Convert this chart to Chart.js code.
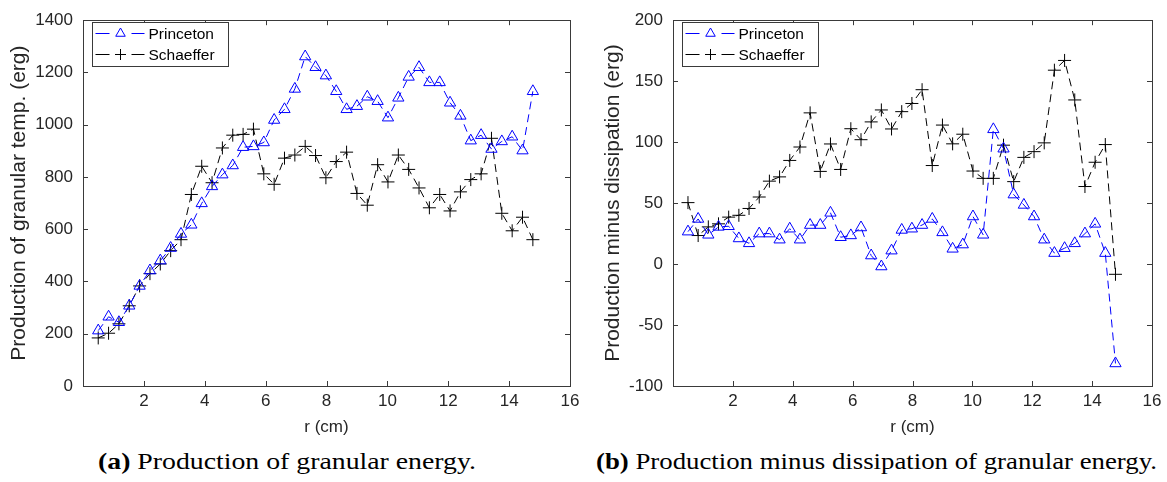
<!DOCTYPE html>
<html>
<head>
<meta charset="utf-8">
<script src="https://cdn.jsdelivr.net/npm/chart.js@4.4.1/dist/chart.umd.min.js"></script>
<style>
  body { margin: 0; background: #fff; }
  #wrap { position: relative; width: 1167px; height: 482px; overflow: hidden; }
  canvas { position: absolute; top: 0; }
  .cap { position: absolute; top: 448px; font-family: "Liberation Serif", "Times New Roman", serif;
         font-size: 24px; color: #000; white-space: nowrap; transform-origin: 0 0; }
</style>
</head>
<body>
<div id="wrap">
  <canvas id="prodChart" width="585" height="440" style="left:0px"></canvas>
  <canvas id="netChart" width="572" height="440" style="left:595px"></canvas>
  <div class="cap" id="capA" style="left:98px" data-w="378"><b>(a)</b> Production of granular energy.</div>
  <div class="cap" id="capB" style="left:596px" data-w="561"><b>(b)</b> Production minus dissipation of granular energy.</div>
</div>
<script>
// radial positions (cm)
const rVals = [0.5, 0.84, 1.18, 1.52, 1.86, 2.2, 2.54, 2.88, 3.22, 3.56, 3.9, 4.24, 4.58, 4.92,
  5.26, 5.6, 5.94, 6.28, 6.62, 6.96, 7.3, 7.64, 7.98, 8.32, 8.66, 9.0, 9.34, 9.68, 10.02, 10.36,
  10.7, 11.04, 11.38, 11.72, 12.06, 12.4, 12.74, 13.08, 13.42, 13.76, 14.1, 14.44, 14.78];

// (a) production of granular temp. (erg)
const princetonProd = [212, 265, 244, 307, 383, 442, 480, 528, 582, 617, 699, 764, 809, 844, 914,
  917, 932, 1018, 1059, 1137, 1261, 1220, 1188, 1128, 1059, 1071, 1107, 1090, 1027, 1103, 1183,
  1220, 1162, 1162, 1084, 1034, 939, 960, 907, 936, 954, 901, 1128];
const schaefferProd = [184, 202, 238, 307, 383, 430, 467, 518, 560, 733, 841, 778, 911, 960, 963,
  983, 812, 772, 872, 884, 917, 882, 797, 859, 895, 737, 692, 847, 781, 884, 829, 758, 682, 733,
  670, 743, 790, 812, 948, 661, 594, 646, 560];

// (b) production minus dissipation (erg)
const princetonNet = [26.6, 37, 24, 30.5, 31, 21, 17, 25, 25, 20, 29, 20, 32, 32, 42, 22, 23.5, 30,
  7, -2, 11, 28, 29, 32, 37, 26, 12.5, 16, 39, 24, 110.5, 94.6, 57, 48.5, 39, 20, 9, 13, 17, 25,
  33, 9, -81.5];
const schaefferNet = [50.4, 23.4, 30.5, 33, 38.5, 40, 45.6, 55, 68, 71.5, 85, 96, 124, 76, 98.5,
  77.6, 111, 102, 116.6, 126.4, 110.8, 125, 131.7, 143, 80.8, 114, 98.6, 106.5, 76.3, 70.3, 70.3,
  97.5, 67.6, 87.5, 92.2, 99.4, 159, 167, 134.6, 63.6, 83.5, 98, -8.4];

const seriesNames = ["Princeton", "Schaeffer"];
const seriesColors = ["#0000ff", "#000000"];
const seriesMarkers = ["triangle", "cross"];

const sansFont = "'Liberation Sans', Arial, Helvetica, sans-serif";
const axisColor = "#3a3a3a";
const textColor = "#262626";

// box, inward ticks and legend drawn like a matlab axes
const matlabAxes = {
  id: "matlabAxes",
  afterDraw(chart) {
    const { ctx, chartArea: a, scales: { x, y } } = chart;
    const len = 5;
    ctx.save();
    ctx.strokeStyle = axisColor;
    ctx.lineWidth = 1;
    ctx.strokeRect(Math.round(a.left) + 0.5, Math.round(a.top) + 0.5,
      Math.round(a.width), Math.round(a.height));
    ctx.beginPath();
    x.ticks.forEach(t => {
      const px = Math.round(x.getPixelForValue(t.value)) + 0.5;
      ctx.moveTo(px, a.bottom); ctx.lineTo(px, a.bottom - len);
      ctx.moveTo(px, a.top); ctx.lineTo(px, a.top + len);
    });
    y.ticks.forEach(t => {
      const py = Math.round(y.getPixelForValue(t.value)) + 0.5;
      ctx.moveTo(a.left, py); ctx.lineTo(a.left + len, py);
      ctx.moveTo(a.right, py); ctx.lineTo(a.right - len, py);
    });
    ctx.stroke();

    // legend
    const bx = Math.round(a.left) + 9.5, by = Math.round(a.top) + 2.5;
    const bw = 136, bh = 44;
    ctx.fillStyle = "#fff";
    ctx.fillRect(bx, by, bw, bh);
    ctx.strokeRect(bx, by, bw, bh);
    chart.data.datasets.forEach((ds, i) => {
      const cy = by + 11 + i * 21;
      ctx.strokeStyle = ds.borderColor;
      ctx.lineWidth = 1;
      ctx.beginPath();
      ctx.moveTo(bx + 3, cy); ctx.lineTo(bx + 17, cy);
      ctx.moveTo(bx + 39, cy); ctx.lineTo(bx + 52, cy);
      ctx.stroke();
      ctx.fillStyle = "rgba(0,0,0,0)";
      Chart.helpers.drawPoint(ctx, { pointStyle: ds.pointStyle, radius: 5.5, borderWidth: 1 }, bx + 28, cy);
      ctx.fillStyle = "#000";
      ctx.font = "15.5px " + sansFont;
      ctx.textBaseline = "middle";
      ctx.fillText(ds.label, bx + 56, cy + 1);
    });
    ctx.restore();
  }
};

function makeChart(canvasId, yTitle, yMin, yMax, yStep, yWidth, padTop, titlePad, princeton, schaeffer) {
  const datasets = [princeton, schaeffer].map((vals, i) => ({
    label: seriesNames[i],
    data: rVals.map((r, j) => ({ x: r, y: vals[j] })),
    borderColor: seriesColors[i],
    borderWidth: 1,
    borderDash: [8, 5],
    pointStyle: seriesMarkers[i],
    pointRadius: 6.5,
    pointBorderWidth: 1,
    pointBorderColor: seriesColors[i],
    pointBackgroundColor: "rgba(0,0,0,0)",
    tension: 0,
    clip: false
  }));

  return new Chart(document.getElementById(canvasId), {
    type: "line",
    data: { datasets },
    plugins: [matlabAxes],
    options: {
      responsive: false,
      animation: false,
      devicePixelRatio: 1,
      layout: { padding: { top: padTop, right: 15, left: 0, bottom: 0 } },
      plugins: { legend: { display: false }, tooltip: { enabled: false } },
      scales: {
        x: {
          type: "linear",
          min: 0, max: 16,
          afterBuildTicks: s => { s.ticks = s.ticks.filter(t => t.value !== 0); },
          afterFit: s => { s.height = 54; },
          grid: { display: false, drawTicks: false },
          border: { display: false },
          ticks: { stepSize: 2, padding: 5, color: textColor, font: { family: sansFont, size: 17 },
                   callback: v => String(v) },
          title: { display: true, text: "r (cm)", color: textColor, padding: { top: 0, bottom: 2 },
                   font: { family: sansFont, size: 17 } }
        },
        y: {
          min: yMin, max: yMax,
          afterFit: s => { s.width = yWidth; },
          grid: { display: false, drawTicks: false },
          border: { display: false },
          ticks: { stepSize: yStep, padding: 10, color: textColor, font: { family: sansFont, size: 17 },
                   callback: v => String(v) },
          title: { display: true, text: yTitle, color: textColor, padding: { top: titlePad, bottom: 0 },
                   font: { family: sansFont, size: 21 } }
        }
      }
    }
  });
}

makeChart("prodChart", "Production of granular temp. (erg)", 0, 1400, 200, 83, 17, 7, princetonProd, schaefferProd);
makeChart("netChart", "Production minus dissipation (erg)", -100, 200, 50, 78, 8, 6, princetonNet, schaefferNet);

// stretch captions to the width of the reference's wider serif
document.querySelectorAll(".cap").forEach(el => {
  const w = el.getBoundingClientRect().width;
  el.style.transform = "scaleX(" + (Number(el.dataset.w) / w) + ")";
});
</script>
</body>
</html>
